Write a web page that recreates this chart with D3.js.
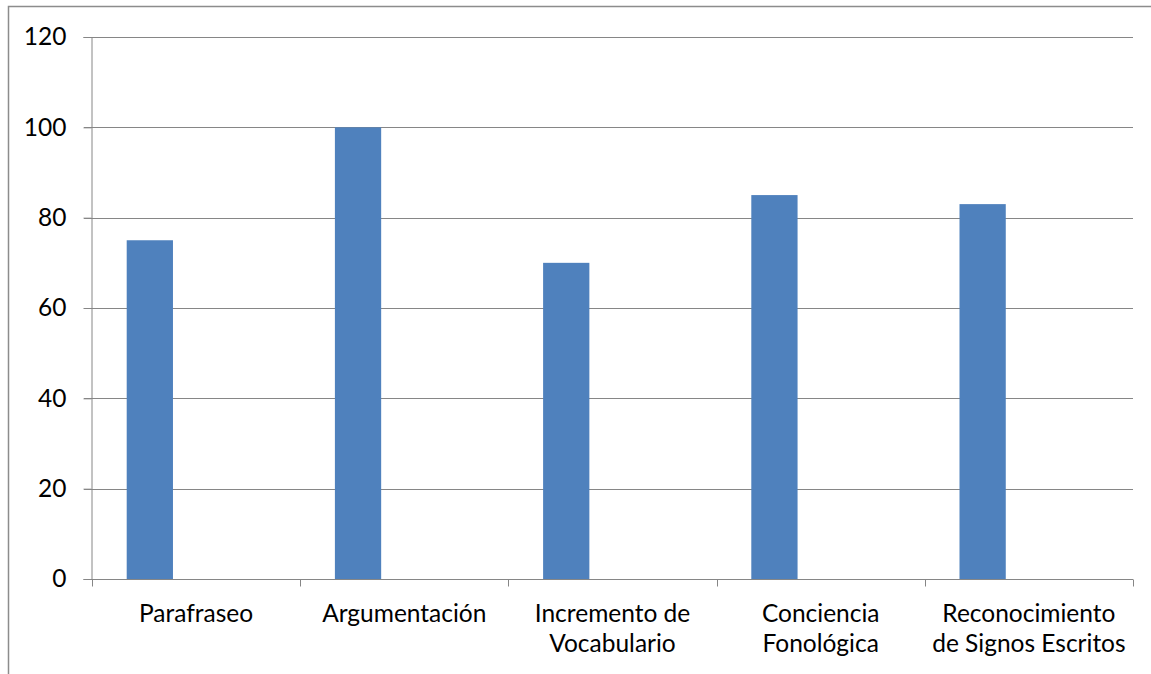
<!DOCTYPE html>
<html>
<head>
<meta charset="utf-8">
<script src="https://cdn.jsdelivr.net/npm/d3@7"></script>
<style>
  body { margin: 0; background: #fff; }
  text { font-family: Lato, "Open Sans", sans-serif; fill: #000; }
</style>
</head>
<body>
<svg width="1151" height="674"></svg>
<script>
var categories = ["Parafraseo", "Argumentación", "Incremento de Vocabulario", "Conciencia Fonológica", "Reconocimiento de Signos Escritos"];
var labelLines = [["Parafraseo"], ["Argumentación"], ["Incremento de", "Vocabulario"], ["Conciencia", "Fonológica"], ["Reconocimiento", "de Signos Escritos"]];
var values = [75, 100, 70, 85, 83];
var seriesSlots = ["Serie1", "Serie2", "Serie3"]; // only the first one has data
var yTicks = [0, 20, 40, 60, 80, 100, 120];

var svg = d3.select("svg");
var plotLeft = 92, plotRight = 1133, plotTop = 37, plotBottom = 579;
var fontSize = 24.5;

// outer chart border
svg.append("rect")
  .attr("x", 8.5).attr("y", 6.5)
  .attr("width", 1200).attr("height", 800)
  .attr("fill", "none")
  .attr("stroke", "#8c8c8c")
  .attr("stroke-width", 1.5);

var x = d3.scaleBand().domain(categories).range([plotLeft, plotRight]).padding(0);
var x1 = d3.scaleBand().domain(seriesSlots).range([0, x.bandwidth()]).paddingInner(0).paddingOuter(0.75);
var y = d3.scaleLinear().domain([0, 120]).range([plotBottom, plotTop]);

// gridlines
svg.append("g")
  .selectAll("line")
  .data(yTicks.filter(function(d) { return d > 0; }))
  .enter().append("line")
  .attr("x1", plotLeft - 8).attr("x2", plotRight)
  .attr("y1", function(d) { return Math.round(y(d)) + 0.5; })
  .attr("y2", function(d) { return Math.round(y(d)) + 0.5; })
  .attr("stroke", "#868686")
  .attr("stroke-width", 1);

// bars
svg.append("g")
  .selectAll("rect")
  .data(values)
  .enter().append("rect")
  .attr("x", function(d, i) { return x(categories[i]) + x1("Serie1"); })
  .attr("y", function(d) { return y(d); })
  .attr("width", x1.bandwidth())
  .attr("height", function(d) { return plotBottom - y(d); })
  .attr("fill", "#4f81bd");

// y axis
var yAxis = svg.append("g")
  .attr("transform", "translate(" + (plotLeft - 0.5) + ",0)")
  .call(d3.axisLeft(y).tickValues(yTicks).tickSize(8).tickPadding(17));
yAxis.selectAll("path, line").attr("stroke", "#868686");
yAxis.selectAll("text")
  .attr("font-size", fontSize)
  .attr("font-family", "Lato, sans-serif");

// x axis
var xTicks = categories.map(function(c) { return x(c); }).concat([plotRight]);
var xAxis = svg.append("g").attr("transform", "translate(0," + (plotBottom + 0.5) + ")");
xAxis.append("line")
  .attr("x1", plotLeft - 8).attr("x2", plotRight)
  .attr("stroke", "#868686");
xAxis.selectAll(".tk")
  .data(xTicks)
  .enter().append("line")
  .attr("class", "tk")
  .attr("x1", function(d) { return Math.round(d) + 0.5; })
  .attr("x2", function(d) { return Math.round(d) + 0.5; })
  .attr("y1", 0).attr("y2", 7)
  .attr("stroke", "#868686");

// category labels
var labels = svg.append("g")
  .selectAll("text")
  .data(labelLines)
  .enter().append("text")
  .attr("text-anchor", "middle")
  .attr("font-size", fontSize)
  .attr("x", function(d, i) { return x(categories[i]) + x.bandwidth() / 2; })
  .attr("y", 622);
labels.selectAll("tspan")
  .data(function(d) { return d; })
  .enter().append("tspan")
  .attr("x", function() { return d3.select(this.parentNode).attr("x"); })
  .attr("dy", function(d, i) { return i == 0 ? 0 : 30; })
  .text(function(d) { return d; });
</script>
</body>
</html>
